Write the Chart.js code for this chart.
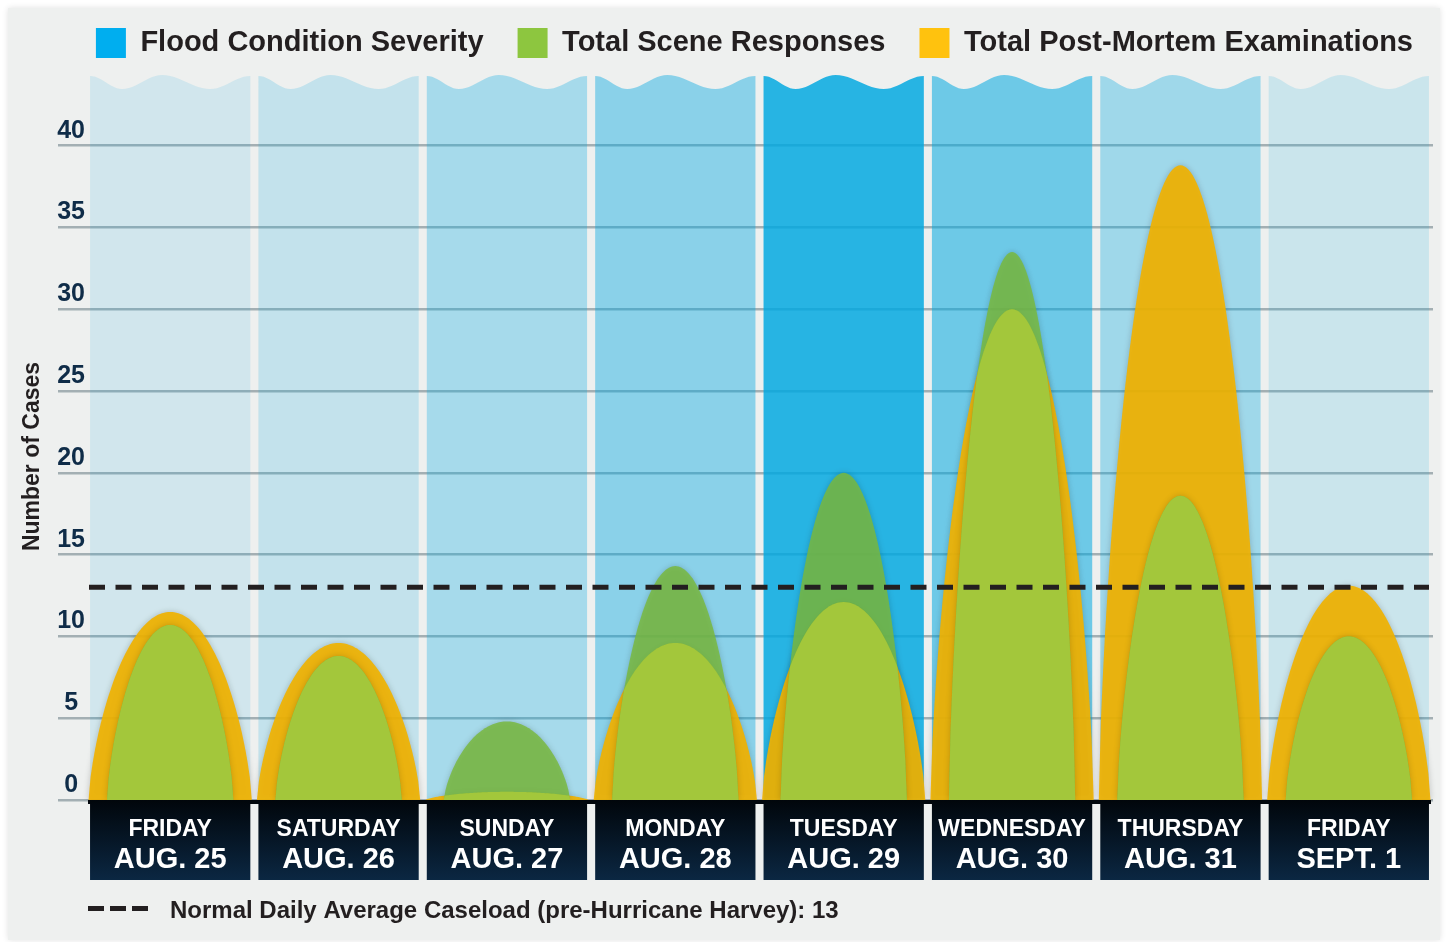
<!DOCTYPE html>
<html>
<head>
<meta charset="utf-8">
<script src="https://cdn.jsdelivr.net/npm/chart.js@4.4.0/dist/chart.umd.min.js"></script>
<style>
  html, body { margin: 0; padding: 0; background: #fff; }
  #panel { position: absolute; left: 8px; top: 8px; width: 1432px; height: 932px; background: #eef0ef; box-shadow: 0 0 6px rgba(0,0,0,0.12); }
  #wrap { position: absolute; left: 0; top: 0; width: 1447px; height: 942px; }
</style>
</head>
<body>
<div id="panel"></div>
<div id="wrap"><canvas id="chart" width="1447" height="942"></canvas></div>
<script>
const dayNames = ['FRIDAY', 'SATURDAY', 'SUNDAY', 'MONDAY', 'TUESDAY', 'WEDNESDAY', 'THURSDAY', 'FRIDAY'];
const dayDates = ['AUG. 25', 'AUG. 26', 'AUG. 27', 'AUG. 28', 'AUG. 29', 'AUG. 30', 'AUG. 31', 'SEPT. 1'];
// relative flood severity per day (drives the blue column shade)
const floodSeverity = [1, 1.5, 2.5, 3.5, 7, 4.5, 2.75, 1.25];
const sceneResponses = [10.7, 8.8, 4.8, 14.3, 20, 33.5, 18.6, 10];
const postMortems = [11.5, 9.6, 0.5, 9.6, 12.1, 30, 38.8, 13.1];
const normalAverage = 13;
const yTicks = [0, 5, 10, 15, 20, 25, 30, 35, 40];

const FONT = "'Liberation Sans', Arial, sans-serif";

// wave on top of each column: [fraction across, offset from chart top]
const wave = [[0, -37], [0.2, -24], [0.45, -38], [0.75, -24], [1, -37]];

function columnPath(ctx, left, right, top, bottom) {
    ctx.beginPath();
    ctx.moveTo(left, bottom);
    ctx.lineTo(left, top + wave[0][1]);
    for (let k = 0; k < wave.length - 1; k++) {
        const [t0, y0] = wave[k];
        const [t1, y1] = wave[k + 1];
        for (let s = 1; s <= 12; s++) {
            const f = s / 12;
            const t = t0 + (t1 - t0) * f;
            const y = y0 + (y1 - y0) * (1 - Math.cos(Math.PI * f)) / 2;
            ctx.lineTo(left + t * (right - left), top + y);
        }
    }
    ctx.lineTo(right, bottom);
    ctx.closePath();
}

function archPath(ctx, el, baseY) {
    const half = el.width / 2;
    const h = baseY - el.y;
    ctx.beginPath();
    ctx.moveTo(el.x - half, baseY);
    for (let i = 0; i <= 80; i++) {
        const u = -1 + i / 40;
        const y = baseY - h * Math.pow(Math.max(0, 1 - u * u), 0.7);
        ctx.lineTo(el.x + u * half, y);
    }
    ctx.closePath();
}

const harveyPlugin = {
    id: 'harvey',
    beforeDatasetsDraw(chart) {
        const ctx = chart.ctx;
        const area = chart.chartArea;
        const base = chart.scales.y.getPixelForValue(0);
        const flood = chart.getDatasetMeta(0).data;
        const scene = chart.getDatasetMeta(1).data;
        const post = chart.getDatasetMeta(2).data;

        // blue columns, shade by severity
        flood.forEach((el, i) => {
            const a = Math.min(0.9, floodSeverity[i] * 0.12);
            ctx.fillStyle = 'rgba(0,168,224,' + a + ')';
            columnPath(ctx, el.x - el.width / 2, el.x + el.width / 2, area.top, base);
            ctx.fill();
        });

        ctx.save();
        ctx.shadowColor = 'rgba(0,0,0,0.22)';
        ctx.shadowBlur = 6;
        post.forEach(el => {
            ctx.fillStyle = 'rgba(240,178,0,0.92)';
            archPath(ctx, el, base);
            ctx.fill();
        });
        scene.forEach(el => {
            ctx.fillStyle = 'rgba(120,184,62,0.85)';
            archPath(ctx, el, base);
            ctx.fill();
        });
        ctx.restore();

        // where both arches overlap
        scene.forEach((el, i) => {
            ctx.save();
            archPath(ctx, post[i], base);
            ctx.clip();
            ctx.fillStyle = 'rgba(164,200,60,0.95)';
            archPath(ctx, el, base);
            ctx.fill();
            ctx.restore();
        });
    },
    beforeDatasetDraw() {
        return false;
    },
    afterDatasetsDraw(chart) {
        const ctx = chart.ctx;
        const area = chart.chartArea;
        const y = chart.scales.y.getPixelForValue(normalAverage);
        ctx.save();
        ctx.strokeStyle = '#231f20';
        ctx.lineWidth = 5;
        ctx.setLineDash([16, 10.5]);
        ctx.beginPath();
        ctx.moveTo(area.left + 3, y);
        ctx.lineTo(area.right - 4, y);
        ctx.stroke();
        ctx.restore();
    },
    afterDraw(chart) {
        const ctx = chart.ctx;
        const area = chart.chartArea;
        const base = chart.scales.y.getPixelForValue(0);
        const flood = chart.getDatasetMeta(0).data;
        ctx.save();
        ctx.fillStyle = '#02070c';
        ctx.fillRect(area.left + 2, base, area.right - area.left - 4, 4);
        flood.forEach((el, i) => {
            const left = el.x - el.width / 2;
            const g = ctx.createLinearGradient(0, base, 0, base + 80);
            g.addColorStop(0, '#01060b');
            g.addColorStop(1, '#0b2742');
            ctx.fillStyle = g;
            ctx.fillRect(left, base, el.width, 80);
            ctx.fillStyle = '#ffffff';
            ctx.textAlign = 'center';
            ctx.textBaseline = 'alphabetic';
            ctx.font = 'bold 23px ' + FONT;
            ctx.fillText(dayNames[i], el.x, base + 36);
            ctx.font = 'bold 29px ' + FONT;
            ctx.fillText(dayDates[i], el.x, base + 68);
        });

        // footnote for the dashed line
        ctx.fillStyle = '#231f20';
        for (let k = 0; k < 3; k++) {
            ctx.fillRect(88 + k * 22, 906, 16, 5);
        }
        ctx.textAlign = 'left';
        ctx.font = 'bold 24px ' + FONT;
        ctx.fillText('Normal Daily Average Caseload (pre-Hurricane Harvey): ' + normalAverage, 170, 918);
        ctx.restore();
    }
};

const chart = new Chart(document.getElementById('chart'), {
    type: 'bar',
    data: {
        labels: dayNames.map((d, i) => d + ' ' + dayDates[i]),
        datasets: [
            { label: 'Flood Condition Severity', data: floodSeverity, xAxisID: 'x', yAxisID: 'ySev', backgroundColor: '#00aeef', grouped: false, barPercentage: 0.952, categoryPercentage: 1 },
            { label: 'Total Scene Responses', data: sceneResponses, xAxisID: 'x', yAxisID: 'y', backgroundColor: '#8dc63f', grouped: false, barPercentage: 0.75, categoryPercentage: 1 },
            { label: 'Total Post-Mortem Examinations', data: postMortems, xAxisID: 'x', yAxisID: 'y', backgroundColor: '#ffc20e', grouped: false, barPercentage: 0.97, categoryPercentage: 1 }
        ]
    },
    options: {
        responsive: false,
        animation: false,
        layout: { padding: { top: -6, right: 0, bottom: 142, left: 0 } },
        plugins: {
            tooltip: { enabled: false },
            legend: {
                position: 'top',
                align: 'end',
                labels: {
                    boxWidth: 30,
                    boxHeight: 30,
                    padding: 34,
                    color: '#231f20',
                    font: { family: FONT, size: 29, weight: 'bold' },
                    generateLabels: ch => ch.data.datasets.map((ds, i) => ({
                        text: ds.label,
                        fillStyle: ds.backgroundColor,
                        strokeStyle: ds.backgroundColor,
                        lineWidth: 0,
                        hidden: false,
                        datasetIndex: i,
                        fontColor: '#231f20'
                    }))
                }
            }
        },
        scales: {
            x: { display: false },
            xTop: {
                type: 'category',
                position: 'top',
                grid: { display: false },
                border: { display: false },
                ticks: { display: false },
                afterFit: s => { s.height = 45; }
            },
            yRight: {
                type: 'linear',
                position: 'right',
                grid: { display: false },
                border: { display: false },
                ticks: { display: false },
                afterFit: s => { s.width = 14; }
            },
            ySev: { display: false, min: 0, max: 10 },
            y: {
                min: 0,
                max: 42,
                z: 1,
                afterFit: s => { s.width = 86; },
                afterBuildTicks: s => { s.ticks = yTicks.map(v => ({ value: v })); },
                border: { display: false },
                grid: { color: 'rgba(60,85,95,0.42)', tickColor: 'rgba(60,85,95,0.42)', lineWidth: 2.5, tickLength: 28 },
                ticks: {
                    padding: -27,
                    crossAlign: 'center',
                    labelOffset: -15,
                    color: '#0f2c48',
                    font: { family: FONT, size: 25, weight: 'bold' }
                },
                title: {
                    display: true,
                    text: 'Number of Cases',
                    color: '#231f20',
                    font: { family: FONT, size: 23, weight: 'bold' },
                    padding: { top: 19, bottom: 0 }
                }
            }
        }
    },
    plugins: [harveyPlugin]
});
</script>
</body>
</html>
